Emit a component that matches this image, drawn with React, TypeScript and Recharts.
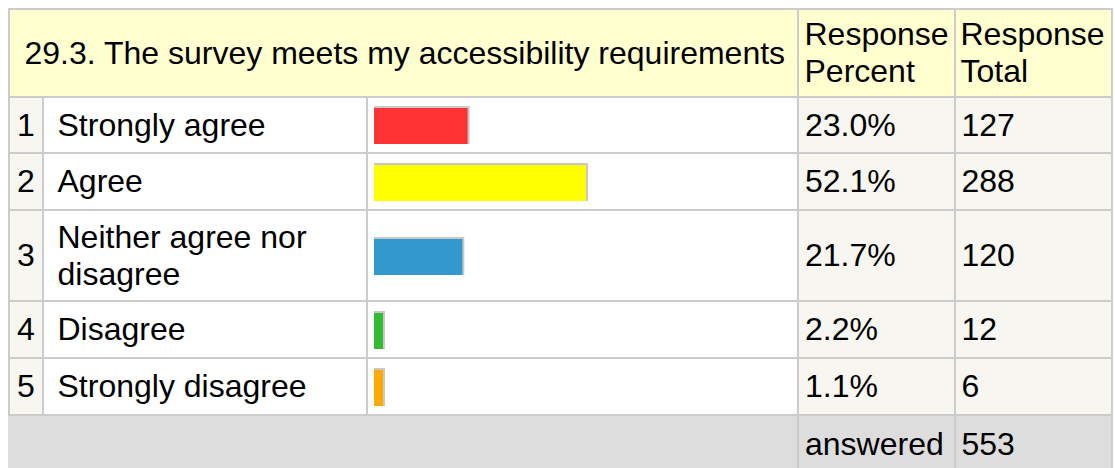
import React from 'react';
import { BarChart, Bar, XAxis, YAxis } from 'recharts';

const questionTitle = '29.3. The survey meets my accessibility requirements';
const headerPercent = ['Response', 'Percent'];
const headerTotal = ['Response', 'Total'];
const categories = ['Strongly agree', 'Agree', 'Neither agree nor disagree', 'Disagree', 'Strongly disagree'];
const percents = [23.0, 52.1, 21.7, 2.2, 1.1];
const totals = [127, 288, 120, 12, 6];
const answeredLabel = 'answered';
const answeredTotal = 553;

const barColors = ['#ff3333', '#ffff00', '#3399cc', '#33bb33', '#ffaa00'];

// layout (page coordinates)
const LINE = '#cccccc';
const colLines = [8, 42, 366, 797, 954, 1111];
const rowLines = [8, 96, 152, 209, 300, 357, 414];
const LW = 2;
const FONT = '"Liberation Sans", Arial, Helvetica, sans-serif';
const FS = 32;

const BarShape = (props: any) => {
  const { x, y, width, height, fill } = props;
  if (width == null || height == null) return null;
  return (
    <g>
      <rect x={x} y={y} width={width + 2} height={height} fill="#c8c8c8" />
      <rect x={x} y={y + 2} width={width} height={height - 2} fill={fill} />
    </g>
  );
};

const Cell = ({ left, top, width, height, bg, children, align = 'left', pad = 0 }: any) => (
  <div
    style={{
      position: 'absolute',
      left,
      top,
      width,
      height,
      background: bg,
      display: 'flex',
      alignItems: 'center',
      justifyContent: align === 'center' ? 'center' : 'flex-start',
      paddingLeft: align === 'center' ? 0 : pad,
      boxSizing: 'border-box',
      fontFamily: FONT,
      fontSize: FS,
      color: '#000',
      overflow: 'hidden',
    }}
  >
    {children}
  </div>
);

export default function App() {
  const cellX = (i: number) => colLines[i] + LW;
  const cellW = (i: number, j: number) => colLines[j] - colLines[i] - LW;
  const rowY = (r: number) => rowLines[r] + LW;
  const rowH = (r: number) => rowLines[r + 1] - rowLines[r] - LW;

  const bodyBg = '#f7f6f0';
  const headBg = '#ffffd0';
  const footBg = '#dddddd';

  const cells: React.ReactNode[] = [];

  // header
  cells.push(
    <Cell key="h0" left={cellX(0)} top={rowY(0)} width={cellW(0, 3)} height={rowH(0)} bg={headBg} pad={14.5}>
      <span style={{ whiteSpace: 'nowrap' }}>{questionTitle}</span>
    </Cell>
  );
  cells.push(
    <Cell key="h1" left={cellX(3)} top={rowY(0)} width={cellW(3, 4)} height={rowH(0)} bg={headBg} pad={5.5}>
      <span style={{ whiteSpace: 'nowrap' }}>
        {headerPercent[0]}
        <br />
        {headerPercent[1]}
      </span>
    </Cell>
  );
  cells.push(
    <Cell key="h2" left={cellX(4)} top={rowY(0)} width={cellW(4, 5)} height={rowH(0)} bg={headBg} pad={4.5}>
      <span style={{ whiteSpace: 'nowrap' }}>
        {headerTotal[0]}
        <br />
        {headerTotal[1]}
      </span>
    </Cell>
  );

  categories.forEach((cat, i) => {
    const r = i + 1;
    const top = rowY(r);
    const h = rowH(r);
    cells.push(
      <Cell key={`n${i}`} left={cellX(0)} top={top} width={cellW(0, 1)} height={h} bg={bodyBg} align="center">
        {i + 1}
      </Cell>
    );
    cells.push(
      <Cell key={`l${i}`} left={cellX(1)} top={top} width={cellW(1, 2)} height={h} bg="#ffffff" pad={13.5}>
        <span style={{ maxWidth: 300 }}>{cat}</span>
      </Cell>
    );
    const bw = cellW(2, 3);
    cells.push(
      <div key={`b${i}`} style={{ position: 'absolute', left: cellX(2), top, width: bw, height: h, background: '#fff' }}>
        <BarChart
          width={bw}
          height={h}
          layout="vertical"
          data={[{ name: cat, value: percents[i] }]}
          margin={{ top: 0, bottom: 0, left: 6, right: bw - 6 - 407 }}
        >
          <XAxis type="number" domain={[0, 100]} hide />
          <YAxis type="category" dataKey="name" hide />
          <Bar
            dataKey="value"
            fill={barColors[i]}
            barSize={38}
            minPointSize={9}
            shape={BarShape}
            isAnimationActive={false}
          />
        </BarChart>
      </div>
    );
    cells.push(
      <Cell key={`p${i}`} left={cellX(3)} top={top} width={cellW(3, 4)} height={h} bg={bodyBg} pad={6}>
        {percents[i].toFixed(1) + '%'}
      </Cell>
    );
    cells.push(
      <Cell key={`t${i}`} left={cellX(4)} top={top} width={cellW(4, 5)} height={h} bg={bodyBg} pad={5.5}>
        {totals[i]}
      </Cell>
    );
  });

  // footer
  const fTop = rowY(6);
  const fH = 56;
  cells.push(<Cell key="f0" left={colLines[0]} top={fTop} width={colLines[3] - colLines[0]} height={fH} bg={footBg} />);
  cells.push(
    <Cell key="f1" left={cellX(3)} top={fTop} width={cellW(3, 4)} height={fH} bg={footBg} pad={6}>
      {answeredLabel}
    </Cell>
  );
  cells.push(
    <Cell key="f2" left={cellX(4)} top={fTop} width={cellW(4, 5)} height={fH} bg={footBg} pad={5.5}>
      {answeredTotal}
    </Cell>
  );

  return (
    <div style={{ position: 'relative', width: 1115, height: 468, overflow: 'hidden', background: '#fff' }}>
      <style>{`body{margin:0;overflow:hidden;}`}</style>
      <div
        style={{
          position: 'absolute',
          left: colLines[0],
          top: rowLines[0],
          width: colLines[5] + LW - colLines[0],
          height: 468 - rowLines[0] + 10,
          background: LINE,
        }}
      />
      {cells}
    </div>
  );
}
